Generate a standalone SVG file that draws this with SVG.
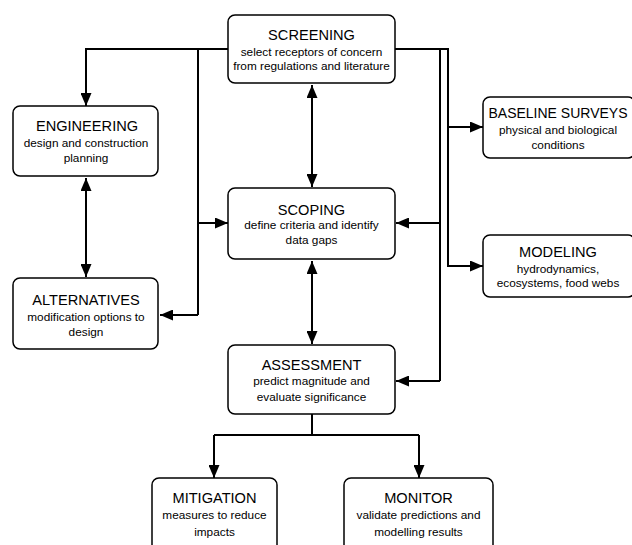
<svg xmlns="http://www.w3.org/2000/svg" width="632" height="545" viewBox="0 0 632 545">
<defs>
<style>
.box{fill:#fff;stroke:#000;stroke-width:1.5}
.t{font-family:"Liberation Sans",Arial,sans-serif;font-size:14.6px;fill:#000;text-anchor:middle}
.s{font-family:"Liberation Sans",Arial,sans-serif;font-size:11.8px;fill:#000;text-anchor:middle}
.c{fill:none;stroke:#000;stroke-width:2}
</style>
<marker id="ah" markerUnits="userSpaceOnUse" markerWidth="13" markerHeight="11" refX="13" refY="5.5" orient="auto-start-reverse">
<path d="M0,0 L13,5.5 L0,11 Z" fill="#000"/>
</marker>
</defs>
<rect width="632" height="545" fill="#fff"/>
<g id="connectors">
<path class="c" d="M228,49 H86 V106" marker-end="url(#ah)"/>
<path class="c" d="M198,49 V315"/>
<path class="c" d="M198,223 H228" marker-end="url(#ah)"/>
<path class="c" d="M198,315 H160" marker-end="url(#ah)"/>
<path class="c" d="M86,178 V277" marker-start="url(#ah)" marker-end="url(#ah)"/>
<path class="c" d="M312,85 V187" marker-start="url(#ah)" marker-end="url(#ah)"/>
<path class="c" d="M312,261 V344" marker-start="url(#ah)" marker-end="url(#ah)"/>
<path class="c" d="M395,49 H448 V266 H483" marker-end="url(#ah)"/>
<path class="c" d="M448,127 H483" marker-end="url(#ah)"/>
<path class="c" d="M440,49 V381"/>
<path class="c" d="M440,223 H396" marker-end="url(#ah)"/>
<path class="c" d="M440,381 H396" marker-end="url(#ah)"/>
<path class="c" d="M312,414 V435"/>
<path class="c" d="M214,435 H419"/>
<path class="c" d="M214,435 V478" marker-end="url(#ah)"/>
<path class="c" d="M419,435 V478" marker-end="url(#ah)"/>
</g>
<g id="screening">
<rect class="box" x="228" y="15" width="167" height="68" rx="7"/>
<text class="t" x="311.5" y="40">SCREENING</text>
<text class="s" x="311.5" y="56">select receptors of concern</text>
<text class="s" x="311.5" y="70">from regulations and literature</text>
</g>
<g id="engineering">
<rect class="box" x="13" y="106" width="145" height="70" rx="7"/>
<text class="t" x="87" y="131">ENGINEERING</text>
<text class="s" x="86" y="147">design and construction</text>
<text class="s" x="86" y="162">planning</text>
</g>
<g id="alternatives">
<rect class="box" x="13" y="278" width="145" height="71" rx="7"/>
<text class="t" x="86" y="305">ALTERNATIVES</text>
<text class="s" x="86" y="321">modification options to</text>
<text class="s" x="86" y="336">design</text>
</g>
<g id="scoping">
<rect class="box" x="228" y="188" width="167" height="71" rx="7"/>
<text class="t" x="311.5" y="215">SCOPING</text>
<text class="s" x="311.5" y="229">define criteria and identify</text>
<text class="s" x="311.5" y="244">data gaps</text>
</g>
<g id="assessment">
<rect class="box" x="228" y="345" width="167" height="69" rx="7"/>
<text class="t" x="311.5" y="370">ASSESSMENT</text>
<text class="s" x="311.5" y="385">predict magnitude and</text>
<text class="s" x="311.5" y="401">evaluate significance</text>
</g>
<g id="baseline">
<rect class="box" x="483" y="97" width="152" height="61" rx="7"/>
<text class="t" x="558" y="118" style="font-size:14px">BASELINE SURVEYS</text>
<text class="s" x="558" y="134">physical and biological</text>
<text class="s" x="558" y="149">conditions</text>
</g>
<g id="modeling">
<rect class="box" x="483" y="235" width="152" height="62" rx="7"/>
<text class="t" x="558" y="257">MODELING</text>
<text class="s" x="558" y="273">hydrodynamics,</text>
<text class="s" x="558" y="287">ecosystems, food webs</text>
</g>
<g id="mitigation">
<rect class="box" x="152" y="478" width="125" height="80" rx="7"/>
<text class="t" x="214.5" y="503">MITIGATION</text>
<text class="s" x="214.5" y="519">measures to reduce</text>
<text class="s" x="214.5" y="536">impacts</text>
</g>
<g id="monitor">
<rect class="box" x="344" y="478" width="149" height="80" rx="7"/>
<text class="t" x="418.5" y="503">MONITOR</text>
<text class="s" x="418.5" y="519">validate predictions and</text>
<text class="s" x="418.5" y="536">modelling results</text>
</g>
</svg>
